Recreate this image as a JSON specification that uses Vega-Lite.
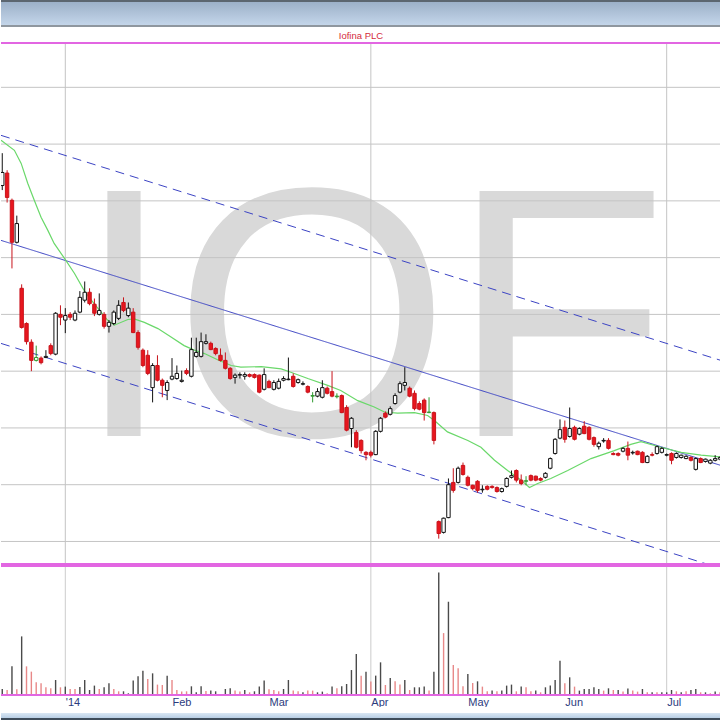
{
"$schema": "https://vega.github.io/schema/vega-lite/v6.json",
"padding": 0,
"spacing": 0,
"background": "white",
"config": {"view": {"stroke": null}, "font": "Liberation Sans"},
"datasets": {
"ohlc": [
{"t":-13,"o":102.7,"h":108.4,"l":101.9,"c":105.0,"dir":"up","v":120,"vd":"up"},
{"t":-12,"o":104.9,"h":105.4,"l":99.7,"c":100.6,"dir":"down","v":100,"vd":"down"},
{"t":-11,"o":100.1,"h":100.4,"l":88.1,"c":92.7,"dir":"down","v":574,"vd":"up"},
{"t":-10,"o":92.7,"h":97.4,"l":92.5,"c":96.0,"dir":"up","v":114,"vd":"down"},
{"t":-9,"o":84.6,"h":85.3,"l":77.5,"c":77.7,"dir":"down","v":1174,"vd":"up"},
{"t":-8,"o":78.4,"h":78.6,"l":74.7,"c":75.2,"dir":"down","v":574,"vd":"down"},
{"t":-7,"o":75.1,"h":75.6,"l":70.0,"c":71.9,"dir":"down","v":468,"vd":"down"},
{"t":-6,"o":71.9,"h":74.5,"l":71.7,"c":72.4,"dir":"flat","v":254,"vd":"down"},
{"t":-5,"o":72.3,"h":72.6,"l":71.2,"c":71.5,"dir":"down","v":234,"vd":"down"},
{"t":-4,"o":72.4,"h":73.7,"l":72.3,"c":72.6,"dir":"up","v":154,"vd":"down"},
{"t":-3,"o":74.5,"h":74.9,"l":72.8,"c":73.1,"dir":"down","v":134,"vd":"down"},
{"t":-2,"o":73.0,"h":80.4,"l":72.8,"c":80.2,"dir":"up","v":300,"vd":"up"},
{"t":-1,"o":80.0,"h":81.6,"l":78.1,"c":79.5,"dir":"down","v":154,"vd":"down"},
{"t":0,"o":79.0,"h":81.1,"l":76.7,"c":79.8,"dir":"up","v":168,"vd":"up"},
{"t":1,"o":80.0,"h":80.4,"l":79.0,"c":79.5,"dir":"down","v":120,"vd":"down"},
{"t":2,"o":79.0,"h":80.7,"l":78.8,"c":80.2,"dir":"up","v":120,"vd":"down"},
{"t":3,"o":80.4,"h":84.1,"l":80.2,"c":83.0,"dir":"up","v":160,"vd":"up"},
{"t":4,"o":82.5,"h":85.8,"l":82.1,"c":83.9,"dir":"up","v":300,"vd":"up"},
{"t":5,"o":83.9,"h":84.6,"l":81.6,"c":81.9,"dir":"down","v":100,"vd":"up"},
{"t":6,"o":81.8,"h":82.8,"l":79.7,"c":80.2,"dir":"down","v":188,"vd":"up"},
{"t":7,"o":80.0,"h":83.7,"l":79.8,"c":80.7,"dir":"up","v":120,"vd":"down"},
{"t":8,"o":80.0,"h":80.4,"l":77.5,"c":77.9,"dir":"down","v":154,"vd":"up"},
{"t":9,"o":77.9,"h":79.0,"l":76.8,"c":78.6,"dir":"up","v":234,"vd":"up"},
{"t":10,"o":78.4,"h":80.7,"l":78.1,"c":80.4,"dir":"up","v":120,"vd":"down"},
{"t":11,"o":79.3,"h":82.5,"l":79.0,"c":81.6,"dir":"up","v":74,"vd":"down"},
{"t":12,"o":82.1,"h":83.0,"l":80.4,"c":80.7,"dir":"down","v":74,"vd":"up"},
{"t":13,"o":79.8,"h":82.1,"l":79.5,"c":81.1,"dir":"up","v":34,"vd":"up"},
{"t":14,"o":80.4,"h":81.1,"l":76.7,"c":76.8,"dir":"down","v":288,"vd":"up"},
{"t":15,"o":76.8,"h":77.2,"l":73.8,"c":74.2,"dir":"down","v":374,"vd":"up"},
{"t":16,"o":73.7,"h":74.0,"l":70.7,"c":71.0,"dir":"down","v":488,"vd":"up"},
{"t":17,"o":72.8,"h":73.7,"l":69.3,"c":69.6,"dir":"down","v":320,"vd":"down"},
{"t":18,"o":67.1,"h":71.4,"l":64.5,"c":71.0,"dir":"up","v":434,"vd":"up"},
{"t":19,"o":71.0,"h":72.8,"l":68.2,"c":68.4,"dir":"down","v":208,"vd":"down"},
{"t":20,"o":68.4,"h":68.7,"l":65.4,"c":67.5,"dir":"down","v":200,"vd":"down"},
{"t":21,"o":66.6,"h":68.4,"l":64.9,"c":68.0,"dir":"up","v":388,"vd":"up"},
{"t":22,"o":68.6,"h":72.3,"l":68.4,"c":69.1,"dir":"up","v":300,"vd":"down"},
{"t":23,"o":68.7,"h":71.0,"l":68.5,"c":69.6,"dir":"up","v":100,"vd":"down"},
{"t":24,"o":68.2,"h":70.1,"l":68.0,"c":68.4,"dir":"up","v":68,"vd":"down"},
{"t":25,"o":70.1,"h":70.5,"l":69.3,"c":69.6,"dir":"down","v":74,"vd":"down"},
{"t":26,"o":69.1,"h":75.9,"l":68.9,"c":73.8,"dir":"up","v":174,"vd":"up"},
{"t":27,"o":72.6,"h":75.9,"l":72.4,"c":73.3,"dir":"up","v":54,"vd":"up"},
{"t":28,"o":72.6,"h":76.8,"l":72.4,"c":75.2,"dir":"up","v":174,"vd":"up"},
{"t":29,"o":74.9,"h":76.5,"l":74.7,"c":75.2,"dir":"up","v":80,"vd":"down"},
{"t":30,"o":74.9,"h":75.2,"l":73.7,"c":73.8,"dir":"down","v":88,"vd":"up"},
{"t":31,"o":74.0,"h":74.2,"l":72.8,"c":73.1,"dir":"down","v":74,"vd":"up"},
{"t":32,"o":72.8,"h":74.0,"l":71.7,"c":71.9,"dir":"down","v":20,"vd":"up"},
{"t":33,"o":71.9,"h":73.3,"l":70.3,"c":70.5,"dir":"down","v":120,"vd":"up"},
{"t":34,"o":70.5,"h":70.7,"l":68.5,"c":68.7,"dir":"down","v":134,"vd":"up"},
{"t":35,"o":68.9,"h":69.6,"l":67.8,"c":69.3,"dir":"up","v":88,"vd":"down"},
{"t":36,"o":69.3,"h":69.8,"l":68.7,"c":69.4,"dir":"up","v":68,"vd":"down"},
{"t":37,"o":69.1,"h":69.8,"l":68.5,"c":69.4,"dir":"up","v":100,"vd":"up"},
{"t":38,"o":69.4,"h":69.6,"l":68.9,"c":69.1,"dir":"down","v":54,"vd":"down"},
{"t":39,"o":69.4,"h":69.6,"l":68.7,"c":68.9,"dir":"down","v":74,"vd":"up"},
{"t":40,"o":69.3,"h":69.4,"l":66.1,"c":66.3,"dir":"down","v":168,"vd":"up"},
{"t":41,"o":66.8,"h":70.5,"l":66.6,"c":69.4,"dir":"up","v":288,"vd":"up"},
{"t":42,"o":68.2,"h":68.5,"l":67.0,"c":67.1,"dir":"down","v":114,"vd":"down"},
{"t":43,"o":66.8,"h":68.4,"l":66.6,"c":68.0,"dir":"up","v":100,"vd":"down"},
{"t":44,"o":67.0,"h":68.7,"l":66.8,"c":68.2,"dir":"up","v":74,"vd":"down"},
{"t":45,"o":68.4,"h":69.1,"l":68.2,"c":68.7,"dir":"up","v":120,"vd":"up"},
{"t":46,"o":68.5,"h":72.4,"l":68.4,"c":68.6,"dir":"up","v":300,"vd":"up"},
{"t":47,"o":69.1,"h":69.6,"l":67.1,"c":67.3,"dir":"down","v":88,"vd":"down"},
{"t":48,"o":68.0,"h":68.7,"l":67.8,"c":68.5,"dir":"up","v":74,"vd":"down"},
{"t":49,"o":67.7,"h":68.2,"l":67.5,"c":67.8,"dir":"up","v":54,"vd":"up"},
{"t":50,"o":67.3,"h":67.5,"l":66.1,"c":66.3,"dir":"down","v":88,"vd":"down"},
{"t":51,"o":65.6,"h":66.3,"l":64.5,"c":65.7,"dir":"flat","v":88,"vd":"down"},
{"t":52,"o":65.6,"h":67.0,"l":65.4,"c":66.4,"dir":"up","v":54,"vd":"up"},
{"t":53,"o":65.4,"h":68.4,"l":65.2,"c":67.1,"dir":"up","v":68,"vd":"up"},
{"t":54,"o":67.0,"h":67.3,"l":65.9,"c":66.1,"dir":"down","v":34,"vd":"down"},
{"t":55,"o":66.4,"h":70.0,"l":65.4,"c":65.6,"dir":"down","v":168,"vd":"up"},
{"t":56,"o":65.5,"h":66.1,"l":65.2,"c":65.6,"dir":"flat","v":134,"vd":"down"},
{"t":57,"o":65.7,"h":65.9,"l":62.6,"c":62.7,"dir":"down","v":174,"vd":"up"},
{"t":58,"o":63.6,"h":64.0,"l":59.4,"c":59.6,"dir":"down","v":220,"vd":"up"},
{"t":59,"o":59.9,"h":61.9,"l":56.6,"c":61.7,"dir":"up","v":500,"vd":"up"},
{"t":60,"o":59.2,"h":59.6,"l":56.4,"c":56.6,"dir":"down","v":820,"vd":"up"},
{"t":61,"o":57.8,"h":58.0,"l":55.5,"c":56.0,"dir":"down","v":388,"vd":"down"},
{"t":62,"o":55.7,"h":55.9,"l":54.3,"c":55.3,"dir":"down","v":468,"vd":"up"},
{"t":63,"o":55.7,"h":56.0,"l":54.8,"c":55.2,"dir":"down","v":268,"vd":"down"},
{"t":64,"o":55.3,"h":59.6,"l":55.2,"c":59.4,"dir":"up","v":388,"vd":"up"},
{"t":65,"o":59.4,"h":61.9,"l":59.2,"c":61.7,"dir":"up","v":654,"vd":"up"},
{"t":66,"o":62.6,"h":62.9,"l":61.7,"c":61.9,"dir":"down","v":200,"vd":"down"},
{"t":67,"o":62.4,"h":63.8,"l":62.2,"c":63.4,"dir":"up","v":340,"vd":"up"},
{"t":68,"o":64.3,"h":66.1,"l":64.1,"c":65.7,"dir":"up","v":274,"vd":"down"},
{"t":69,"o":66.3,"h":68.2,"l":66.1,"c":67.8,"dir":"up","v":208,"vd":"down"},
{"t":70,"o":67.5,"h":70.7,"l":66.6,"c":68.0,"dir":"up","v":300,"vd":"up"},
{"t":71,"o":67.0,"h":67.3,"l":65.4,"c":65.6,"dir":"down","v":100,"vd":"down"},
{"t":72,"o":66.1,"h":66.6,"l":63.1,"c":63.4,"dir":"down","v":154,"vd":"up"},
{"t":73,"o":64.3,"h":64.7,"l":63.1,"c":63.3,"dir":"down","v":154,"vd":"up"},
{"t":74,"o":64.9,"h":65.2,"l":61.3,"c":62.7,"dir":"down","v":168,"vd":"up"},
{"t":75,"o":62.7,"h":65.4,"l":62.6,"c":62.8,"dir":"flat","v":88,"vd":"down"},
{"t":76,"o":62.7,"h":62.9,"l":57.1,"c":57.8,"dir":"down","v":468,"vd":"up"},
{"t":77,"o":43.5,"h":43.7,"l":40.5,"c":41.4,"dir":"down","v":2454,"vd":"up"},
{"t":78,"o":41.6,"h":44.2,"l":41.4,"c":44.1,"dir":"up","v":1240,"vd":"down"},
{"t":79,"o":44.2,"h":51.1,"l":44.1,"c":50.0,"dir":"up","v":1868,"vd":"up"},
{"t":80,"o":50.4,"h":52.9,"l":48.6,"c":49.0,"dir":"down","v":600,"vd":"down"},
{"t":81,"o":50.4,"h":53.2,"l":50.2,"c":52.9,"dir":"up","v":534,"vd":"down"},
{"t":82,"o":53.4,"h":53.9,"l":51.6,"c":51.8,"dir":"down","v":174,"vd":"down"},
{"t":83,"o":51.3,"h":51.6,"l":49.7,"c":49.9,"dir":"down","v":420,"vd":"up"},
{"t":84,"o":49.9,"h":50.0,"l":49.0,"c":49.3,"dir":"down","v":240,"vd":"down"},
{"t":85,"o":50.6,"h":50.8,"l":48.6,"c":49.0,"dir":"down","v":274,"vd":"up"},
{"t":86,"o":49.1,"h":49.9,"l":48.6,"c":49.2,"dir":"up","v":168,"vd":"down"},
{"t":87,"o":49.7,"h":49.9,"l":49.0,"c":49.2,"dir":"down","v":74,"vd":"down"},
{"t":88,"o":49.7,"h":49.9,"l":49.3,"c":49.5,"dir":"down","v":88,"vd":"up"},
{"t":89,"o":49.5,"h":49.7,"l":48.6,"c":48.8,"dir":"down","v":74,"vd":"down"},
{"t":90,"o":48.8,"h":49.5,"l":48.6,"c":49.3,"dir":"up","v":88,"vd":"up"},
{"t":91,"o":49.7,"h":51.3,"l":49.5,"c":51.1,"dir":"up","v":188,"vd":"up"},
{"t":92,"o":51.3,"h":52.5,"l":51.1,"c":51.6,"dir":"up","v":208,"vd":"up"},
{"t":93,"o":52.5,"h":52.7,"l":50.4,"c":50.8,"dir":"down","v":74,"vd":"down"},
{"t":94,"o":50.8,"h":51.8,"l":49.9,"c":50.2,"dir":"down","v":168,"vd":"up"},
{"t":95,"o":50.6,"h":51.5,"l":49.9,"c":50.7,"dir":"flat","v":154,"vd":"down"},
{"t":96,"o":51.6,"h":51.8,"l":50.6,"c":50.8,"dir":"down","v":74,"vd":"down"},
{"t":97,"o":51.5,"h":51.6,"l":50.6,"c":50.8,"dir":"down","v":88,"vd":"up"},
{"t":98,"o":51.1,"h":51.3,"l":50.6,"c":50.8,"dir":"down","v":54,"vd":"down"},
{"t":99,"o":51.3,"h":52.2,"l":51.1,"c":52.0,"dir":"up","v":154,"vd":"up"},
{"t":100,"o":52.9,"h":54.8,"l":52.7,"c":54.6,"dir":"up","v":188,"vd":"up"},
{"t":101,"o":55.5,"h":58.2,"l":55.3,"c":58.0,"dir":"up","v":300,"vd":"up"},
{"t":102,"o":58.2,"h":61.5,"l":58.0,"c":59.7,"dir":"up","v":688,"vd":"up"},
{"t":103,"o":60.1,"h":61.3,"l":57.4,"c":58.0,"dir":"down","v":234,"vd":"down"},
{"t":104,"o":58.5,"h":63.6,"l":58.3,"c":59.9,"dir":"up","v":354,"vd":"up"},
{"t":105,"o":60.1,"h":60.4,"l":57.8,"c":58.0,"dir":"down","v":168,"vd":"down"},
{"t":106,"o":58.9,"h":60.1,"l":58.7,"c":59.9,"dir":"up","v":88,"vd":"up"},
{"t":107,"o":60.3,"h":61.2,"l":58.9,"c":59.0,"dir":"down","v":120,"vd":"up"},
{"t":108,"o":60.1,"h":60.3,"l":57.8,"c":58.0,"dir":"down","v":120,"vd":"up"},
{"t":109,"o":58.3,"h":58.5,"l":56.7,"c":57.1,"dir":"down","v":154,"vd":"up"},
{"t":110,"o":56.7,"h":57.6,"l":56.2,"c":57.3,"dir":"up","v":120,"vd":"up"},
{"t":111,"o":57.7,"h":58.2,"l":57.4,"c":57.8,"dir":"up","v":88,"vd":"down"},
{"t":112,"o":57.8,"h":58.2,"l":56.2,"c":56.4,"dir":"down","v":134,"vd":"up"},
{"t":113,"o":55.5,"h":55.7,"l":55.2,"c":55.3,"dir":"down","v":100,"vd":"down"},
{"t":114,"o":55.5,"h":55.7,"l":55.0,"c":55.2,"dir":"down","v":100,"vd":"up"},
{"t":115,"o":55.9,"h":56.6,"l":55.7,"c":56.4,"dir":"up","v":68,"vd":"down"},
{"t":116,"o":56.4,"h":57.6,"l":54.3,"c":55.2,"dir":"down","v":128,"vd":"up"},
{"t":117,"o":55.6,"h":56.0,"l":55.3,"c":55.7,"dir":"up","v":88,"vd":"down"},
{"t":118,"o":55.9,"h":56.0,"l":55.2,"c":55.3,"dir":"down","v":68,"vd":"down"},
{"t":119,"o":55.7,"h":55.9,"l":53.8,"c":53.9,"dir":"down","v":120,"vd":"up"},
{"t":120,"o":53.9,"h":55.2,"l":53.8,"c":55.0,"dir":"up","v":54,"vd":"down"},
{"t":121,"o":55.3,"h":55.7,"l":55.0,"c":55.2,"dir":"down","v":54,"vd":"up"},
{"t":122,"o":55.5,"h":56.9,"l":55.3,"c":56.7,"dir":"up","v":54,"vd":"down"},
{"t":123,"o":55.7,"h":56.6,"l":55.5,"c":56.4,"dir":"up","v":54,"vd":"up"},
{"t":124,"o":55.2,"h":55.5,"l":55.0,"c":55.3,"dir":"up","v":54,"vd":"up"},
{"t":125,"o":55.5,"h":55.7,"l":53.6,"c":54.3,"dir":"down","v":100,"vd":"up"},
{"t":126,"o":54.8,"h":55.7,"l":54.6,"c":55.5,"dir":"up","v":74,"vd":"down"},
{"t":127,"o":54.8,"h":55.3,"l":54.6,"c":55.2,"dir":"up","v":54,"vd":"up"},
{"t":128,"o":54.6,"h":55.2,"l":54.5,"c":55.0,"dir":"up","v":74,"vd":"down"},
{"t":129,"o":54.8,"h":55.0,"l":54.1,"c":54.3,"dir":"down","v":100,"vd":"up"},
{"t":130,"o":52.7,"h":54.8,"l":52.5,"c":54.6,"dir":"up","v":120,"vd":"up"},
{"t":131,"o":54.6,"h":54.8,"l":53.8,"c":53.9,"dir":"down","v":54,"vd":"down"},
{"t":132,"o":54.1,"h":54.6,"l":53.9,"c":54.5,"dir":"up","v":54,"vd":"up"},
{"t":133,"o":53.8,"h":54.5,"l":53.6,"c":54.3,"dir":"up","v":34,"vd":"down"},
{"t":134,"o":54.3,"h":55.2,"l":54.1,"c":54.6,"dir":"up","v":68,"vd":"up"},
{"t":135,"o":54.5,"h":55.0,"l":54.3,"c":54.8,"dir":"up","v":54,"vd":"down"}
],
"ma": [
{"t":-13.26,"p":110.7},{"t":-10.5,"p":108.9},{"t":-9.1,"p":106.6},{"t":-7.75,"p":103.1},{"t":-6.4,"p":100.1},{"t":-5.0,"p":97.1},{"t":-3.6,"p":94.8},{"t":-2.3,"p":92.5},{"t":-0.2,"p":89.9},{"t":1.9,"p":87.2},{"t":3.9,"p":84.2},{"t":4.9,"p":83.0},{"t":6.7,"p":81.1},{"t":8.7,"p":79.0},{"t":10.1,"p":78.1},{"t":12.9,"p":79.1},{"t":14.2,"p":79.2},{"t":16.3,"p":78.6},{"t":19.1,"p":77.5},{"t":21.8,"p":76.0},{"t":24.5,"p":74.5},{"t":26.6,"p":73.7},{"t":28.7,"p":73.1},{"t":31.4,"p":72.0},{"t":34.2,"p":71.0},{"t":36.2,"p":70.7},{"t":40.4,"p":70.8},{"t":44.5,"p":70.4},{"t":46.5,"p":69.8},{"t":50.0,"p":68.7},{"t":54.1,"p":67.5},{"t":56.8,"p":66.6},{"t":60.3,"p":64.8},{"t":63.7,"p":63.7},{"t":65.8,"p":62.8},{"t":68.5,"p":62.6},{"t":72.0,"p":62.7},{"t":74.7,"p":62.2},{"t":76.1,"p":61.3},{"t":78.8,"p":59.3},{"t":83.0,"p":57.8},{"t":85.7,"p":56.6},{"t":88.5,"p":54.3},{"t":91.2,"p":52.5},{"t":94.0,"p":50.8},{"t":95.7,"p":49.5},{"t":97.4,"p":50.2},{"t":100.1,"p":51.1},{"t":103.6,"p":52.5},{"t":108.4,"p":54.6},{"t":113.2,"p":56.0},{"t":116.6,"p":57.1},{"t":118.7,"p":57.6},{"t":122.8,"p":56.6},{"t":127.0,"p":55.7},{"t":131.1,"p":55.2},{"t":135.2,"p":54.9}
],
"trend": [
{"t":-13.26,"p":93.04,"s":"mid"},{"t":135.2,"p":53.39,"s":"mid"},
{"t":-13.26,"p":111.54,"s":"upper"},{"t":135.2,"p":71.89,"s":"upper"},
{"t":-13.26,"p":74.89,"s":"lower"},{"t":135.2,"p":35.24,"s":"lower"}
],
"hgrid": [{"g":40},{"g":50},{"g":60},{"g":70},{"g":80},{"g":90},{"g":100},{"g":110},{"g":120}],
"qgrid": [{"q":0},{"q":63},{"q":124}],
"mark": [{"w":"IOF"}]
},
"vconcat": [
{
"width": 720, "height": 30,
"view": {"stroke": null, "fill": {"gradient": "linear", "x1": 0, "y1": 0, "x2": 0, "y2": 1, "stops": [
{"offset": 0, "color": "#5c6670"}, {"offset": 0.07, "color": "#5c6670"}, {"offset": 0.08, "color": "#9db1c9"}, {"offset": 0.82, "color": "#c3d5e9"}, {"offset": 0.84, "color": "#8f979f"}, {"offset": 0.89, "color": "#8f979f"}, {"offset": 0.9, "color": "#ffffff"}, {"offset": 1, "color": "#ffffff"}]}},
"data": {"values": [{}]},
"mark": {"type": "text", "text": ""}
},
{
"width": 720, "height": 521,
"title": {"text": "Iofina PLC", "font": "Liberation Sans", "fontSize": 9.5, "fontWeight": "normal", "color": "#d42a3c", "anchor": "middle", "offset": 2},
"layer": [
{
"data": {"name": "mark"},
"mark": {"type": "text", "font": "Liberation Sans", "fontSize": 356, "color": "#d9d9d9", "align": "left", "baseline": "alphabetic"},
"encoding": {
"x": {"datum": 1.9, "type": "quantitative", "scale": {"domain": [-13.26, 135.2], "nice": false, "zero": false, "padding": 0}, "axis": null},
"y": {"datum": 58.6, "type": "quantitative", "scale": {"domain": [36.03, 127.81], "nice": false, "zero": false, "padding": 0}, "axis": null},
"text": {"field": "w"}
}
},
{
"data": {"name": "hgrid"},
"mark": {"type": "rule", "color": "#c4c4c4", "strokeWidth": 1},
"encoding": {"y": {"field": "g", "type": "quantitative"}}
},
{
"data": {"name": "qgrid"},
"mark": {"type": "rule", "color": "#c4c4c4", "strokeWidth": 1},
"encoding": {"x": {"field": "q", "type": "quantitative"}}
},
{
"data": {"name": "trend"},
"mark": {"type": "line", "color": "#3c44c4", "strokeWidth": 1, "clip": true},
"encoding": {
"x": {"field": "t", "type": "quantitative"},
"y": {"field": "p", "type": "quantitative"},
"detail": {"field": "s"},
"strokeDash": {"field": "s", "type": "nominal", "scale": {"domain": ["mid", "upper", "lower"], "range": [[1, 0], [9, 6], [9, 6]]}, "legend": null}
}
},
{
"data": {"name": "ma"},
"mark": {"type": "line", "color": "#6ad86a", "strokeWidth": 1.2, "clip": true},
"encoding": {
"x": {"field": "t", "type": "quantitative"},
"y": {"field": "p", "type": "quantitative"}
}
},
{
"data": {"name": "ohlc"},
"mark": {"type": "rule", "strokeWidth": 1, "clip": true},
"encoding": {
"x": {"field": "t", "type": "quantitative"},
"y": {"field": "l", "type": "quantitative"},
"y2": {"field": "h"},
"stroke": {"field": "dir", "type": "nominal", "scale": {"domain": ["up", "down", "flat"], "range": ["#111111", "#c8141c", "#2f9a2f"]}, "legend": null}
}
},
{
"data": {"name": "ohlc"},
"mark": {"type": "bar", "width": 3.4, "strokeWidth": 1, "clip": true},
"encoding": {
"x": {"field": "t", "type": "quantitative"},
"y": {"field": "o", "type": "quantitative"},
"y2": {"field": "c"},
"fill": {"field": "dir", "type": "nominal", "scale": {"domain": ["up", "down", "flat"], "range": ["#ffffff", "#e8161e", "#ffffff"]}, "legend": null},
"stroke": {"field": "dir", "type": "nominal", "legend": null}
}
},
{
"data": {"values": [{"b": 36.03}, {"b": 127.81}]},
"mark": {"type": "rule", "color": "#e266e2", "strokeWidth": 2},
"encoding": {"y": {"field": "b", "type": "quantitative"}}
}
]
},
{
"width": 720, "height": 129,
"layer": [
{
"data": {"name": "qgrid"},
"mark": {"type": "rule", "color": "#cccccc", "strokeWidth": 1},
"encoding": {"x": {"field": "q", "type": "quantitative", "scale": {"domain": [-13.26, 135.2], "nice": false, "zero": false, "padding": 0},
"axis": {"values": [0, 22, 42, 63, 83, 103, 124], "labelExpr": "datum.value == 0 ? \"'14\" : datum.value == 22 ? 'Feb' : datum.value == 42 ? 'Mar' : datum.value == 63 ? 'Apr' : datum.value == 83 ? 'May' : datum.value == 103 ? 'Jun' : 'Jul'", "labelAlign": "left", "labelDx": -1, "labelColor": "#2c3b7d", "labelFontSize": 11, "labelFont": "Liberation Sans", "ticks": false, "domain": false, "grid": false, "labelPadding": 1, "title": null}}}
},
{
"data": {"name": "ohlc"},
"mark": {"type": "rule", "strokeWidth": 1.4, "clip": true},
"encoding": {
"x": {"field": "t", "type": "quantitative"},
"y": {"field": "v", "type": "quantitative", "scale": {"domain": [0, 2584], "nice": false, "zero": true}, "axis": null},
"y2": {"datum": 0},
"color": {"field": "vd", "type": "nominal", "scale": {"domain": ["up", "down"], "range": ["#4a4a4a", "#e88888"]}, "legend": null}
}
},
{
"data": {"values": [{"b": 0}, {"b": 2584}]},
"mark": {"type": "rule", "color": "#e266e2", "strokeWidth": 2},
"encoding": {"y": {"field": "b", "type": "quantitative"}}
}
]
},
{
"width": 720, "height": 14,
"view": {"stroke": null, "fill": {"gradient": "linear", "x1": 0, "y1": 0, "x2": 0, "y2": 1, "stops": [
{"offset": 0, "color": "#ffffff"}, {"offset": 0.4, "color": "#ffffff"}, {"offset": 0.44, "color": "#d8e6f3"}, {"offset": 0.78, "color": "#b9cfe5"}, {"offset": 0.81, "color": "#3e4c5a"}, {"offset": 1, "color": "#3e4c5a"}]}},
"data": {"values": [{}]},
"mark": {"type": "text", "text": ""}
}
]
}
